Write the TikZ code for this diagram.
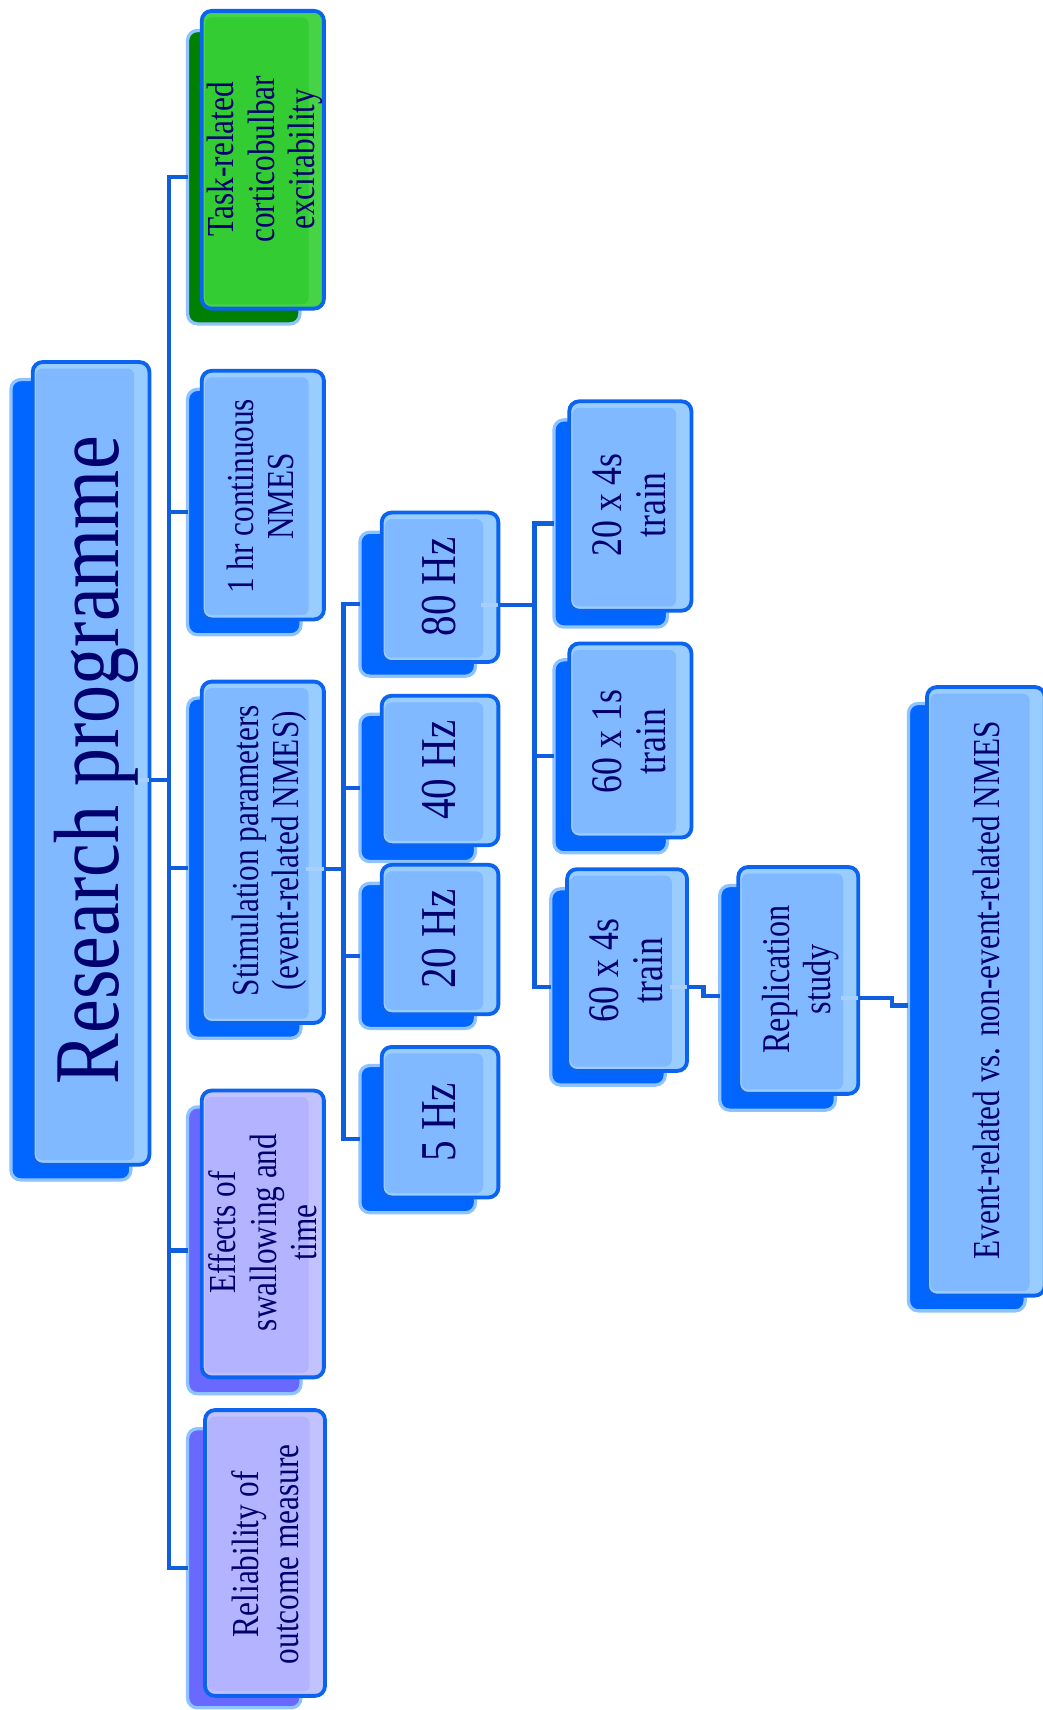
\documentclass[tikz,border=0pt]{standalone}
\usepackage{fontspec}
\newfontfamily\cond[FakeStretch=0.82]{Liberation Serif}
\definecolor{backblue}{RGB}{0,102,255}
\definecolor{rimblue}{RGB}{143,195,255}
\definecolor{frontblue}{RGB}{128,185,255}
\definecolor{frontlight}{RGB}{153,204,255}
\definecolor{edgeblue}{RGB}{10,100,240}
\definecolor{connblue}{RGB}{15,95,220}
\definecolor{stubblue}{RGB}{168,208,255}
\definecolor{navy}{RGB}{0,0,110}
\definecolor{backgreen}{RGB}{0,128,0}
\definecolor{frontgreen}{RGB}{51,204,51}
\definecolor{frontgreenlight}{RGB}{70,212,70}
\definecolor{backpurple}{RGB}{105,105,255}
\definecolor{frontpurple}{RGB}{179,179,255}
\definecolor{frontpurplelight}{RGB}{194,194,255}
\tikzset{
  bbase/.style={draw=rimblue, line width=3pt, fill=#1, rounded corners=9pt, inner sep=0pt, outer sep=0pt},
  bblue/.style={bbase=backblue},
  bgreen/.style={bbase=backgreen},
  bpurple/.style={bbase=backpurple},
  fbase/.style 2 args={draw=edgeblue, line width=3.5pt, fill=#1, rounded corners=9pt, inner sep=0pt, outer sep=0pt,
    path picture={\fill[#2, rounded corners=6pt] ([xshift=3pt,yshift=-6pt]path picture bounding box.north west) rectangle ([xshift=-14pt,yshift=4pt]path picture bounding box.south east);}},
  fblue/.style={fbase={frontlight}{frontblue}},
  fgreen/.style={fbase={frontgreenlight}{frontgreen}},
  fpurple/.style={fbase={frontpurplelight}{frontpurple}},
  conn/.style={draw=connblue, line width=4pt},
  stub/.style={draw=stubblue, line width=4pt},
  txt/.style={text=navy, align=center, inner sep=0pt, rotate=90},
  big/.style={txt, font=\cond\fontsize{85}{90}\selectfont},
  lvone/.style={txt, font=\cond\fontsize{35}{37}\selectfont},
  lvfreq/.style={txt, font=\cond\fontsize{46}{50}\selectfont},
  lvtrain/.style={txt, font=\cond\fontsize{40}{40}\selectfont},
  lvrep/.style={txt, font=\cond\fontsize{36}{37}\selectfont},
}
\begin{document}
\begin{tikzpicture}[x=1pt,y=-1pt]
\useasboundingbox (0,0) rectangle (956,1568);

% ---------- boxes: back layers ----------
\node[bblue, minimum width=110pt, minimum height=734pt] (bRes) at (65,715) {};
\node[bgreen, minimum width=103pt, minimum height=269pt] (bTask) at (223.5,162.5) {};
\node[bblue, minimum width=104pt, minimum height=225pt] (b1hr) at (224,469.5) {};
\node[bblue, minimum width=104pt, minimum height=312pt] (bStim) at (224,796) {};
\node[bpurple, minimum width=104pt, minimum height=263pt] (bEff) at (224,1146.5) {};
\node[bpurple, minimum width=104pt, minimum height=256pt] (bRel) at (224,1438) {};
\node[bblue, minimum width=106pt, minimum height=132pt] (b80) at (383,554) {};
\node[bblue, minimum width=106pt, minimum height=135pt] (b40) at (383,722.5) {};
\node[bblue, minimum width=106pt, minimum height=133pt] (b20) at (383,876.5) {};
\node[bblue, minimum width=106pt, minimum height=135pt] (b5) at (383,1044.5) {};
\node[bblue, minimum width=104pt, minimum height=190pt] (bTa) at (560,480) {};
\node[bblue, minimum width=104pt, minimum height=177pt] (bTb) at (560,693.5) {};
\node[bblue, minimum width=105pt, minimum height=180pt] (bTc) at (557.5,905) {};
\node[bblue, minimum width=106pt, minimum height=206pt] (bRep) at (713,915) {};
\node[bblue, minimum width=107pt, minimum height=557pt] (bEvt) at (886.5,923.5) {};

% ---------- boxes: front layers ----------
\node[fblue, minimum width=107pt, minimum height=736pt] (fRes) at (83.5,700) {};
\node[fgreen, minimum width=112pt, minimum height=273pt] (fTask) at (241,146.5) {};
\node[fblue, minimum width=112pt, minimum height=228pt] (f1hr) at (241,454) {};
\node[fblue, minimum width=112pt, minimum height=313pt] (fStim) at (241,781.5) {};
\node[fpurple, minimum width=112pt, minimum height=263pt] (fEff) at (241,1131.5) {};
\node[fpurple, minimum width=110pt, minimum height=262pt] (fRel) at (243,1424) {};
\node[fblue, minimum width=107pt, minimum height=137pt] (f80) at (403.5,538.5) {};
\node[fblue, minimum width=107pt, minimum height=137pt] (f40) at (403.5,706.5) {};
\node[fblue, minimum width=107pt, minimum height=137pt] (f20) at (403.5,861.5) {};
\node[fblue, minimum width=107pt, minimum height=138pt] (f5) at (403.5,1029) {};
\node[fblue, minimum width=112pt, minimum height=192pt] (fTa) at (578,464) {};
\node[fblue, minimum width=112pt, minimum height=178pt] (fTb) at (578,679) {};
\node[fblue, minimum width=110pt, minimum height=185pt] (fTc) at (575,889.5) {};
\node[fblue, minimum width=110pt, minimum height=208pt] (fRep) at (732,899) {};
\node[fblue, minimum width=108pt, minimum height=558pt] (fEvt) at (904,909) {};

% ---------- connectors ----------
\coordinate (t0) at (155,715);
\draw[conn] (fRes.east |- t0) -- (t0);
\draw[stub] ([xshift=-16pt]fRes.east |- t0) -- (fRes.east |- t0);
\draw[conn] (t0) |- (bTask.west);
\draw[conn] (t0) |- (b1hr.west);
\draw[conn] (t0) |- (bStim.west);
\draw[conn] (t0) |- (bEff.west);
\draw[conn] (t0) |- (bRel.west);

\coordinate (s0) at (315,797);
\draw[conn] (fStim.east |- s0) -- (s0);
\draw[stub] ([xshift=-16pt]fStim.east |- s0) -- (fStim.east |- s0);
\draw[conn] (s0) |- (b80.west);
\draw[conn] (s0) |- (b40.west);
\draw[conn] (s0) |- (b20.west);
\draw[conn] (s0) |- (b5.west);

\coordinate (e0) at (490,555);
\draw[conn] (f80.east |- e0) -- (e0);
\draw[stub] ([xshift=-16pt]f80.east |- e0) -- (f80.east |- e0);
\draw[conn] (e0) |- (bTa.west);
\draw[conn] (e0) |- (bTb.west);
\draw[conn] (e0) |- (bTc.west);

\coordinate (r0) at (645,905);
\coordinate (r1) at (645,913);
\draw[conn] (fTc.east |- r0) -- (r0) -- (r1) -- (bRep.west |- r1);
\draw[stub] ([xshift=-16pt]fTc.east |- r0) -- (fTc.east |- r0);

\coordinate (q0) at (818,915);
\coordinate (q1) at (818,922);
\draw[conn] (fRep.east |- q0) -- (q0) -- (q1) -- (bEvt.west |- q1);
\draw[stub] ([xshift=-16pt]fRep.east |- q0) -- (fRep.east |- q0);

% ---------- texts ----------
\node[big] (tRes) at (88,697) {Research programme};
\node[lvone] (tTask) at (243,146) {Task-related\\corticobulbar\\excitability};
\node[lvone] (t1hr) at (239,455) {1 hr continuous\\NMES};
\node[lvone] (tStim) at (247,780) {Stimulation parameters\\(event-related NMES)};
\node[lvone] (tEff) at (241,1130) {Effects of\\swallowing and\\time};
\node[lvone] (tRel) at (243,1425) {Reliability of\\outcome measure};
\node[lvfreq] (t80) at (403,538) {80 Hz};
\node[lvfreq] (t40) at (403,706) {40 Hz};
\node[lvfreq] (t20) at (403,861) {20 Hz};
\node[lvfreq] (t5) at (403,1029) {5 Hz};
\node[lvtrain] (tTa) at (577,463) {20 x 4s\\train};
\node[lvtrain] (tTb) at (577,680) {60 x 1s\\train};
\node[lvtrain] (tTc) at (574,890) {60 x 4s\\train};
\node[lvrep] (tRep) at (734,898) {Replication\\study};
\node[lvone] (tEvt) at (905,908) {Event-related vs. non-event-related NMES};
\end{tikzpicture}
\end{document}
